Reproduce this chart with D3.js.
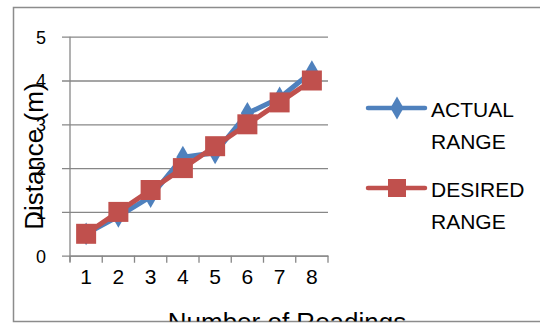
<!DOCTYPE html>
<html>
<head>
<meta charset="utf-8">
<script src="https://cdn.jsdelivr.net/npm/d3@7"></script>
<style>
  html, body { margin: 0; padding: 0; background: #fff; }
  svg { display: block; font-family: "Liberation Sans", Arial, sans-serif; }
</style>
</head>
<body>
<svg id="chart" width="540" height="326"></svg>
<script>
// Readings and measured ranges (m)
const readings = ["1", "2", "3", "4", "5", "6", "7", "8"];
const actualRange = [0.5, 0.9, 1.35, 2.25, 2.35, 3.25, 3.6, 4.2];
const desiredRange = [0.5, 1, 1.5, 2, 2.5, 3, 3.5, 4];
const yTicks = [0, 1, 2, 3, 4, 5];
const seriesNames = [["ACTUAL", "RANGE"], ["DESIRED", "RANGE"]];

const blue = "#4F81BD", red = "#C0504D", grid = "#878787";
const svg = d3.select("#chart");

// Chart frame, with everything clipped to it
svg.append("defs").append("clipPath").attr("id", "frame")
  .append("rect").attr("x", 13.5).attr("y", 7.5).attr("width", 540).attr("height", 314);
svg.append("rect").attr("x", 13.5).attr("y", 7.5).attr("width", 540).attr("height", 314)
  .attr("fill", "#fff").attr("stroke", "#8c8c8c").attr("stroke-width", 1.5);
const root = svg.append("g").attr("clip-path", "url(#frame)");

const plot = { left: 70, right: 328, top: 36.7, bottom: 255.7 };
const x = d3.scaleBand().domain(readings).range([plot.left, plot.right]);
const y = d3.scaleLinear().domain([0, 5]).range([plot.bottom, plot.top]);

// Horizontal gridlines and y tick labels
const yAxis = root.append("g").attr("transform", `translate(${plot.left},0)`)
  .call(d3.axisLeft(y).tickValues(yTicks).tickSize(-(plot.right - plot.left)).tickPadding(24)
    .tickFormat(d3.format("d")));
yAxis.select(".domain").remove();
yAxis.selectAll(".tick line").attr("stroke", grid).attr("stroke-width", 1.3).attr("x1", -8);
yAxis.selectAll(".tick text").attr("fill", "#000").style("font-size", "18px")
  .attr("dy", "0.35em").attr("font-family", "Liberation Sans, Arial, sans-serif");

// Vertical axis line
root.append("line").attr("x1", plot.left).attr("x2", plot.left)
  .attr("y1", plot.top).attr("y2", plot.bottom + 6)
  .attr("stroke", grid).attr("stroke-width", 1.3);

// Category axis: labels from the band scale, ticks at band edges
const xAxis = root.append("g").attr("transform", `translate(0,${plot.bottom})`)
  .call(d3.axisBottom(x).tickSize(0).tickPadding(28));
xAxis.select(".domain").attr("stroke", grid).attr("stroke-width", 1.3);
xAxis.selectAll(".tick text").attr("fill", "#000").style("font-size", "21px")
  .attr("font-family", "Liberation Sans, Arial, sans-serif").attr("dy", "0");
const edges = readings.map(r => x(r)).concat([x(readings[readings.length - 1]) + x.bandwidth()]);
root.append("g").selectAll("line").data(edges).join("line")
  .attr("x1", d => d).attr("x2", d => d)
  .attr("y1", plot.bottom).attr("y2", plot.bottom + 7)
  .attr("stroke", grid).attr("stroke-width", 1.3);

// Axis titles
root.append("text").attr("transform", `translate(43,${(plot.top + plot.bottom) / 2 + 10}) rotate(-90)`)
  .attr("text-anchor", "middle").style("font-size", "26px").text("Distance (m)");
root.append("text").attr("x", 287).attr("y", 331)
  .attr("text-anchor", "middle").style("font-size", "26px").text("Number of Readings");

const cx = (d, i) => x(readings[i]) + x.bandwidth() / 2;
const line = d3.line().x(cx).y(d => y(d));
const diamond = d3.symbol().type(d3.symbolDiamond).size(150);

// ACTUAL RANGE series
root.append("path").datum(actualRange).attr("d", line)
  .attr("fill", "none").attr("stroke", blue).attr("stroke-width", 5)
  .attr("stroke-linejoin", "round").attr("stroke-linecap", "round");
root.append("g").selectAll("path").data(actualRange).join("path")
  .attr("d", diamond).attr("fill", blue)
  .attr("transform", (d, i) => `translate(${cx(d, i)},${y(d)})`);

// DESIRED RANGE series
root.append("path").datum(desiredRange).attr("d", line)
  .attr("fill", "none").attr("stroke", red).attr("stroke-width", 5)
  .attr("stroke-linejoin", "round").attr("stroke-linecap", "round");
root.append("g").selectAll("rect").data(desiredRange).join("rect")
  .attr("x", (d, i) => cx(d, i) - 10).attr("y", d => y(d) - 10)
  .attr("width", 20).attr("height", 20).attr("fill", red);

// Legend
const legend = root.append("g");
const entries = [
  { color: blue, y: 108, marker: "diamond", names: seriesNames[0], base: 117 },
  { color: red, y: 188, marker: "square", names: seriesNames[1], base: 197 }
];
entries.forEach(e => {
  legend.append("line").attr("x1", 368).attr("x2", 425).attr("y1", e.y).attr("y2", e.y)
    .attr("stroke", e.color).attr("stroke-width", 4.5).attr("stroke-linecap", "round");
  if (e.marker === "diamond") {
    legend.append("path").attr("d", diamond).attr("fill", e.color)
      .attr("transform", `translate(397,${e.y})`);
  } else {
    legend.append("rect").attr("x", 388).attr("y", e.y - 9).attr("width", 18).attr("height", 18)
      .attr("fill", e.color);
  }
  e.names.forEach((t, k) => {
    legend.append("text").attr("x", 431).attr("y", e.base + k * 32)
      .style("font-size", "21px").attr("fill", "#000").text(t);
  });
});
</script>
</body>
</html>
